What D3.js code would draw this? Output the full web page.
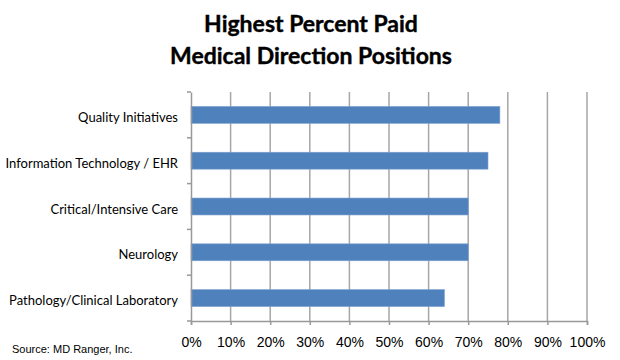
<!DOCTYPE html>
<html><head><meta charset="utf-8">
<script src="https://cdn.jsdelivr.net/npm/d3@7"></script>
<style>body{margin:0;background:#fff}</style>
</head><body>
<svg id="c" width="620" height="360"></svg>
<script>
const categories = ["Quality Initiatives","Information Technology / EHR","Critical/Intensive Care","Neurology","Pathology/Clinical Laboratory"];
const values = [0.78, 0.75, 0.70, 0.70, 0.64];
const tickValues = [0,0.1,0.2,0.3,0.4,0.5,0.6,0.7,0.8,0.9,1.0];
const titleLines = ["Highest Percent Paid","Medical Direction Positions"];
const sourceText = "Source: MD Ranger, Inc.";

const svg = d3.select("#c");
const x = d3.scaleLinear().domain([0,1]).range([191,587]);
const y = d3.scaleBand().domain(categories).range([92,321]).paddingInner(0.63).paddingOuter(0.315);
const yb = d3.scaleBand().domain(categories).range([92,321]);

// gridlines
svg.append("g").selectAll("line").data(tickValues.slice(1)).join("line")
  .attr("x1",d=>x(d)).attr("x2",d=>x(d)).attr("y1",92).attr("y2",321)
  .attr("stroke","#a6a6a6").attr("stroke-width",1.5);

// bars
svg.append("g").selectAll("rect").data(categories).join("rect")
  .attr("x",x(0)).attr("y",d=>y(d)).attr("width",(d,i)=>x(values[i])-x(0)).attr("height",y.bandwidth())
  .attr("fill","#4f81bd").attr("stroke","#7fa3d0").attr("stroke-width",0.6);

// x axis
const xa = svg.append("g").attr("transform","translate(0,321)")
  .call(d3.axisBottom(x).tickValues(tickValues).tickFormat(d3.format(".0%")).tickSize(4).tickPadding(12));
xa.select(".domain").attr("stroke","#999").attr("stroke-width",1.5);
xa.selectAll(".tick line").attr("stroke","#999").attr("stroke-width",1.5);
xa.selectAll("text").attr("font-family","'Liberation Sans', Arial, sans-serif").attr("font-size",14).attr("fill","#000");

// y axis
const ya = svg.append("g").attr("transform","translate(191,0)")
  .call(d3.axisLeft(yb).tickSize(0).tickPadding(13));
ya.select(".domain").attr("stroke","#999").attr("stroke-width",1.5);
ya.selectAll("text").attr("font-family","Lato, 'Open Sans', sans-serif").attr("font-size",13).attr("fill","#000").attr("dy","0.55em");
// category separator ticks
svg.append("g").selectAll("line").data(d3.range(categories.length+1)).join("line")
  .attr("x1",187).attr("x2",191)
  .attr("y1",i=>92+i*yb.step()).attr("y2",i=>92+i*yb.step())
  .attr("stroke","#999").attr("stroke-width",1.5);

// title
svg.append("g").selectAll("text").data(titleLines).join("text")
  .attr("x",311).attr("y",(d,i)=>32+i*32).attr("text-anchor","middle")
  .attr("font-family","Lato, 'Open Sans', sans-serif").attr("font-weight","bold").attr("font-size",23)
  .attr("stroke","#000").attr("stroke-width",0.4)
  .attr("fill","#000").text(d=>d);

// source
svg.append("text").attr("x",12).attr("y",353).attr("font-family","'Liberation Sans', Arial, sans-serif")
  .attr("font-size",11).attr("fill","#000").text(sourceText);
</script>
</body></html>
